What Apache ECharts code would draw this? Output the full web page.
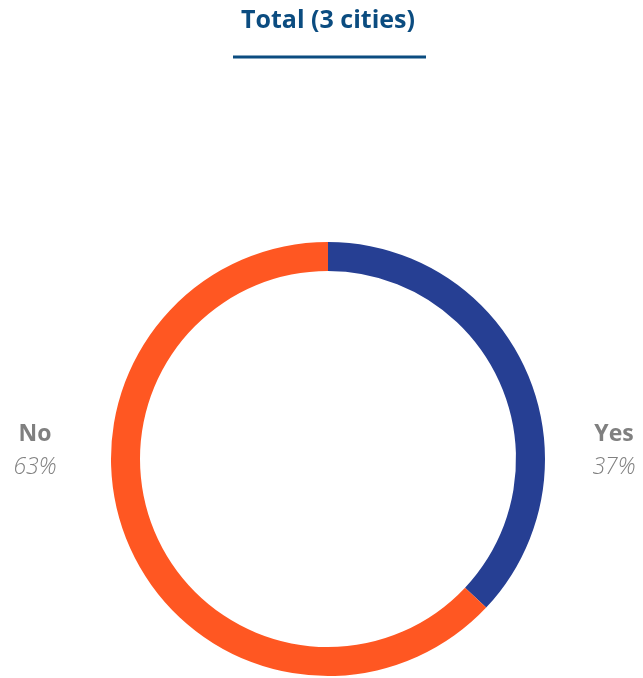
<!DOCTYPE html>
<html>
<head>
<meta charset="utf-8">
<script src="https://cdn.jsdelivr.net/npm/echarts@6/dist/echarts.min.js"></script>
<style>
  html, body { margin: 0; padding: 0; background: #ffffff; }
  #chart { width: 643px; height: 678px; }
</style>
</head>
<body>
<div id="chart"></div>
<script>
// Answer shares, all three cities combined
const answers = ['Yes', 'No'];
const shares = [37, 63];
const answerColors = ['#263f93', '#ff5722'];

const chart = echarts.init(document.getElementById('chart'));

// Horizontal centres of the two answer labels, at either side of the ring
const labelX = { Yes: 614, No: 35 };

chart.setOption({
  backgroundColor: '#ffffff',
  title: {
    text: 'Total (3 cities)',
    left: 236,
    top: 3,
    textStyle: {
      fontFamily: 'Open Sans',
      fontWeight: 'bold',
      fontSize: 25,
      color: '#0b4c80'
    }
  },
  graphic: [{
    type: 'line',
    shape: { x1: 233, y1: 57, x2: 426, y2: 57 },
    style: { stroke: '#0b4c80', lineWidth: 3 }
  }],
  series: [{
    type: 'pie',
    center: [328, 459],
    radius: [188, 217],
    startAngle: 90,
    clockwise: true,
    silent: true,
    data: answers.map((name, i) => ({
      name: name,
      value: shares[i],
      itemStyle: { color: answerColors[i] }
    })),
    labelLine: { show: false },
    label: {
      show: true,
      position: 'outside',
      formatter: p => '{n|' + p.name + '}\n{p|' + p.value + '%}',
      rich: {
        n: { fontFamily: 'Open Sans', fontWeight: 'bold', fontSize: 23, color: '#808080', lineHeight: 33, align: 'center' },
        p: { fontFamily: 'Open Sans', fontStyle: 'italic', fontWeight: 300, fontSize: 23, color: '#808080', lineHeight: 33, align: 'center' }
      }
    },
    labelLayout: p => ({
      x: labelX[answers[p.dataIndex]],
      y: 451,
      align: 'center',
      verticalAlign: 'middle'
    })
  }]
});
</script>
</body>
</html>
